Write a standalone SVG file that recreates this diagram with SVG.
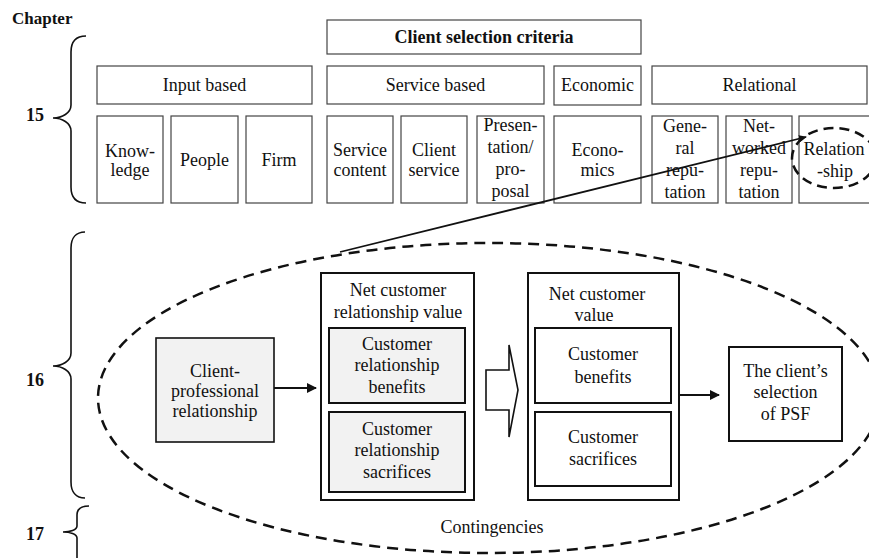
<svg xmlns="http://www.w3.org/2000/svg" width="869" height="558" viewBox="0 0 869 558">
<style>
text{font-family:'Liberation Serif','Times New Roman',Times,serif;font-size:18px;fill:#111;text-anchor:middle}
.b{font-weight:bold}
.ch{text-anchor:start;font-weight:bold;font-size:17px}
.cat{fill:#fff;stroke:#444;stroke-width:1.2}
.box{fill:#fff;stroke:#111;stroke-width:2}
.grey{fill:#f2f2f2;stroke:#111;stroke-width:2}
.brace{fill:none;stroke:#111;stroke-width:1.6}
.dash{fill:none;stroke:#111;stroke-width:2.5;stroke-dasharray:11 7}
.con{fill:none;stroke:#111;stroke-width:2}
</style>
<defs>
<marker id="ah" markerWidth="10" markerHeight="10" refX="9" refY="5" orient="auto" markerUnits="userSpaceOnUse">
<path d="M0,0 L10,5 L0,10 z" fill="#111"/>
</marker>
<marker id="ahs" markerWidth="8" markerHeight="8" refX="7" refY="4" orient="auto" markerUnits="userSpaceOnUse">
<path d="M0,0.5 L8,4 L0,7.5 z" fill="#111"/>
</marker>
</defs>
<rect width="869" height="558" fill="#fff"/>

<g id="chapters">
<text class="ch" x="12" y="24">Chapter</text>
<text class="b" x="35" y="121">15</text>
<path class="brace" d="M86,36 C76,36 71,42 71,52 L71,105 C71,113 62,118 53,118 C62,118 71,123 71,131 L71,187 C71,197 76,203 86,203"/>
<text class="b" x="35" y="386">16</text>
<path class="brace" d="M85,232 C76,232 71,238 71,248 L71,353 C71,361 62,366 53,366 C62,366 71,371 71,379 L71,482 C71,492 76,498 85,498"/>
<text class="b" x="35" y="540">17</text>
<path class="brace" d="M89,506 C81,506 77,509 77,515 L77,526 C77,530 70,532 63,532 C70,532 77,534 77,538 L77,560"/>
</g>

<g id="criteria">
<rect class="cat" x="327" y="20" width="314" height="34"/>
<text class="b" x="484" y="43">Client selection criteria</text>
</g>

<g id="input-based"><rect class="cat" x="97" y="66" width="215" height="38"/><text x="204.5" y="91">Input based</text></g>
<g id="service-based"><rect class="cat" x="327" y="66" width="217" height="38"/><text x="435.5" y="91">Service based</text></g>
<g id="economic"><rect class="cat" x="554" y="66" width="87" height="39"/><text x="597.5" y="91">Economic</text></g>
<g id="relational"><rect class="cat" x="652" y="66" width="215" height="38"/><text x="759.5" y="91">Relational</text></g>

<g id="knowledge"><rect class="cat" x="97" y="116" width="66" height="87"/><text x="130" y="157">Know-</text><text x="130" y="176">ledge</text></g>
<g id="people"><rect class="cat" x="171" y="116" width="67" height="87"/><text x="204.5" y="166">People</text></g>
<g id="firm"><rect class="cat" x="246" y="116" width="66" height="87"/><text x="279" y="166">Firm</text></g>
<g id="service-content"><rect class="cat" x="327" y="116" width="66" height="87"/><text x="360" y="156">Service</text><text x="360" y="176">content</text></g>
<g id="client-service"><rect class="cat" x="401" y="116" width="66" height="87"/><text x="434" y="156">Client</text><text x="434" y="176">service</text></g>
<g id="presentation"><rect class="cat" x="477" y="116" width="67" height="87"/><text x="510.5" y="131">Presen-</text><text x="510.5" y="153">tation/</text><text x="510.5" y="175">pro-</text><text x="510.5" y="197">posal</text></g>
<g id="economics"><rect class="cat" x="554" y="116" width="87" height="87"/><text x="597.5" y="156">Econo-</text><text x="597.5" y="176">mics</text></g>
<g id="general-reputation"><rect class="cat" x="652" y="116" width="66" height="87"/><text x="685" y="132">Gene-</text><text x="685" y="154">ral</text><text x="685" y="176">repu-</text><text x="685" y="198">tation</text></g>
<g id="networked-reputation"><rect class="cat" x="726" y="116" width="66" height="87"/><text x="759" y="132">Net-</text><text x="759" y="154">worked</text><text x="759" y="176">repu-</text><text x="759" y="198">tation</text></g>
<g id="relationship"><rect class="cat" x="799" y="116" width="74" height="87"/><text x="834" y="155">Relation</text><text x="835" y="177">-ship</text>
<ellipse class="dash" cx="834" cy="158" rx="42" ry="30" style="stroke-dasharray:10 6"/></g>

<g id="contingencies">
<ellipse class="dash" cx="489" cy="398" rx="391" ry="155"/>
<text x="492" y="533">Contingencies</text>
</g>

<g id="client-professional"><rect class="grey" x="156" y="338" width="118" height="104" style="stroke-width:1.6"/><text x="215" y="377">Client-</text><text x="215" y="397">professional</text><text x="215" y="417">relationship</text></g>

<g id="net-customer-relationship-value">
<rect class="box" x="321" y="273" width="153" height="227"/>
<text x="398" y="296">Net customer</text><text x="398" y="318">relationship value</text>
<rect class="grey" x="329" y="328" width="136" height="75"/>
<text x="397" y="350">Customer</text><text x="397" y="371">relationship</text><text x="397" y="393">benefits</text>
<rect class="grey" x="329" y="412" width="136" height="80"/>
<text x="397" y="435">Customer</text><text x="397" y="456">relationship</text><text x="397" y="478">sacrifices</text>
</g>

<g id="net-customer-value">
<rect class="box" x="528" y="273" width="151" height="227"/>
<text x="597" y="300">Net customer</text><text x="594" y="321">value</text>
<rect class="box" x="535" y="328" width="136" height="75"/>
<text x="603" y="360">Customer</text><text x="603" y="383">benefits</text>
<rect class="box" x="535" y="412" width="136" height="74"/>
<text x="603" y="443">Customer</text><text x="603" y="465">sacrifices</text>
</g>

<g id="client-selection"><rect class="box" x="729" y="347" width="113" height="94"/><text x="785.5" y="377">The client’s</text><text x="785.5" y="398">selection</text><text x="785.5" y="420">of PSF</text></g>

<g id="connectors">
<line class="con" x1="340" y1="252" x2="806" y2="137" style="stroke-width:1.8" marker-end="url(#ahs)"/>
<line class="con" x1="274" y1="388" x2="316" y2="388" marker-end="url(#ah)"/>
<polygon points="486,370 509,370 509,345 518,390 509,437 509,410 486,410" fill="#fff" stroke="#111" stroke-width="1.6" stroke-linejoin="miter"/>
<line class="con" x1="679" y1="395" x2="719" y2="395" marker-end="url(#ah)"/>
</g>
</svg>
